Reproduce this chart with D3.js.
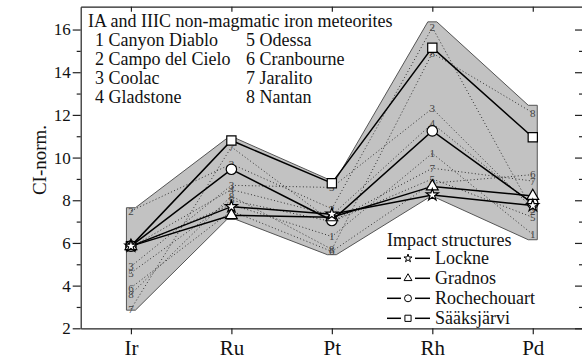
<!DOCTYPE html>
<html>
<head>
  <meta charset="utf-8">
  <title>CI-normalized PGE patterns</title>
  <script src="https://d3js.org/d3.v7.min.js"></script>
  <style>
  body { margin: 0; background: white; }
  svg text { font-family: "Liberation Serif", "Times New Roman", "DejaVu Serif", serif; fill: #111; }
  .axis path, .axis line { stroke: #222; stroke-width: 1.2px; }
  .dotted { fill: none; stroke: #333; stroke-width: 1px; stroke-dasharray: 1,2.4; }
  .solid { fill: none; stroke: #000; stroke-width: 1.5px; }
  .mlabel { font-size: 11px; fill: #444; }
  .legend { font-size: 18px; }
  </style>
</head>
<body>
<div id="container"></div>
<script>

// elements on the x axis
var elements = ['Ir', 'Ru', 'Pt', 'Rh', 'Pd']

// IA and IIIC non-magmatic iron meteorites (dotted, numbered)
var meteorites = ['Canyon Diablo', 'Campo del Cielo', 'Coolac', 'Gladstone',
                  'Odessa', 'Cranbourne', 'Jaralito', 'Nantan']
var canyonDiablo  = [5.8, 7.8, 6.3, 10.2, 6.4]
var campoDelCielo = [7.5, 9.7, 7.6, 16.1, 7.5]
var coolac        = [4.9, 8.7, 8.6, 12.3, 7.6]
var gladstone     = [5.8, 8.5, 7.3, 11.6, 7.8]
var odessa        = [4.6, 8.0, 7.0, 9.0, 7.2]
var cranbourne    = [3.9, 7.5, 5.6, 8.8, 9.2]
var jaralito      = [2.9, 10.5, 7.0, 9.5, 8.9]
var nantan        = [3.6, 8.2, 5.7, 14.9, 12.1]

// grey envelope of the meteorite field
var envelopeUpper = [7.65, 10.9, 9.0, 16.36, 12.45]
var envelopeLower = [2.85, 7.1, 5.45, 8.1, 6.15]

// impact structures (solid, with markers)
var impacts = ['Lockne', 'Gradnos', 'Rochechouart', 'Sääksjärvi']
var lockne       = [5.85, 7.7, 7.35, 8.25, 7.75]
var gradnos      = [5.85, 7.3, 7.2, 8.65, 8.2]
var rochechouart = [5.85, 9.45, 7.05, 11.25, 7.85]
var saaksjarvi   = [5.85, 10.8, 8.8, 15.15, 10.95]

var yMajor = [2, 4, 6, 8, 10, 12, 14, 16]
var yMinor = [3, 5, 7, 9, 11, 13, 15]

const width = 582
const height = 360
const plotLeft = 80.7, plotRight = 583, plotTop = 6.7, plotBottom = 328.3

var svg = d3.select('#container')
  .append('svg')
  .attr('width', width)
  .attr('height', height)

var x = d3.scaleLinear().domain([-0.5, 4.5]).range([plotLeft, plotRight])
var y = d3.scaleLinear().domain([2, 17.07]).range([plotBottom, plotTop])

// envelope polygon, small flats at each corner
const pad = 4.5
var envPts = []
envelopeUpper.forEach((v, i) => {
  envPts.push([x(i) - pad, y(v)], [x(i) + pad, y(v)])
})
envelopeLower.slice().reverse().forEach((v, j) => {
  var i = envelopeLower.length - 1 - j
  envPts.push([x(i) + pad, y(v)], [x(i) - pad, y(v)])
})
svg.append('polygon')
  .attr('points', envPts.map(p => p.join(',')).join(' '))
  .style('fill', '#c2c2c2')
  .style('stroke', '#555')
  .style('stroke-width', 1)

var line = d3.line()
  .x((d, i) => x(i))
  .y(d => y(d))

var metData = [canyonDiablo, campoDelCielo, coolac, gladstone, odessa, cranbourne, jaralito, nantan]

metData.forEach((series, k) => {
  svg.append('path')
    .datum(series)
    .attr('class', 'dotted')
    .attr('d', line)
})

metData.forEach((series, k) => {
  svg.selectAll('.ml' + k)
    .data(series)
    .enter()
    .append('text')
    .attr('class', 'mlabel ml' + k)
    .attr('x', (d, i) => x(i))
    .attr('y', d => y(d))
    .attr('dy', '0.35em')
    .attr('text-anchor', 'middle')
    .text(k + 1)
})

// impact structure lines, back to front
var impData = [lockne, gradnos, rochechouart, saaksjarvi]
var symbols = [d3.symbolStar, d3.symbolTriangle, d3.symbolCircle, d3.symbolSquare]
var sizes = [45, 60, 85, 85]

for (var k = impData.length - 1; k >= 0; k--) {
  svg.append('path')
    .datum(impData[k])
    .attr('class', 'solid')
    .attr('d', line)
}
for (var k = impData.length - 1; k >= 0; k--) {
  svg.selectAll('.mk' + k)
    .data(impData[k])
    .enter()
    .append('path')
    .attr('transform', (d, i) => 'translate(' + x(i) + ',' + y(d) + ')')
    .attr('d', d3.symbol().type(symbols[k]).size(sizes[k]))
    .style('fill', 'white')
    .style('stroke', '#000')
    .style('stroke-width', 1.2)
}

// axes
var xAxis = d3.axisBottom(x)
  .tickValues(d3.range(elements.length))
  .tickFormat(i => elements[i])
  .tickSize(6)
  .tickSizeOuter(0)

var gx = svg.append('g')
  .attr('class', 'axis')
  .attr('transform', 'translate(0,' + plotBottom + ')')
  .call(xAxis)
gx.selectAll('text')
  .attr('dy', null)
  .attr('y', 27)
  .style('font-size', '21px')
  .style('fill', '#111')

svg.append('g')
  .attr('class', 'axis')
  .attr('transform', 'translate(0,' + plotTop + ')')
  .call(d3.axisTop(x).tickValues(d3.range(elements.length)).tickSize(-5).tickSizeOuter(0).tickFormat(''))

var gy = svg.append('g')
  .attr('class', 'axis')
  .attr('transform', 'translate(' + plotLeft + ',0)')
  .call(d3.axisLeft(y).tickValues(yMajor).tickSize(8).tickPadding(2).tickSizeOuter(0))
gy.selectAll('text')
  .style('font-size', '17px')
  .style('fill', '#111')

svg.append('g')
  .attr('class', 'axis')
  .attr('transform', 'translate(' + plotLeft + ',0)')
  .call(d3.axisLeft(y).tickValues(yMinor).tickSize(4).tickFormat('').tickSizeOuter(0))
  .select('.domain').remove()

svg.append('g')
  .attr('class', 'axis')
  .attr('transform', 'translate(' + plotRight + ',0)')
  .call(d3.axisRight(y).tickValues(yMajor).tickSize(-8).tickFormat('').tickSizeOuter(0))
svg.append('g')
  .attr('class', 'axis')
  .attr('transform', 'translate(' + plotRight + ',0)')
  .call(d3.axisRight(y).tickValues(yMinor).tickSize(-4).tickFormat('').tickSizeOuter(0))
  .select('.domain').remove()

svg.append('text')
  .attr('transform', 'translate(46,160) rotate(-90)')
  .attr('text-anchor', 'middle')
  .style('font-size', '19px')
  .text('CI-norm.')

// meteorite legend
svg.append('text')
  .attr('class', 'legend')
  .attr('x', 88)
  .attr('y', 27)
  .text('IA and IIIC non-magmatic iron meteorites')

svg.selectAll('.metLegend')
  .data(meteorites)
  .enter()
  .append('text')
  .attr('class', 'legend metLegend')
  .attr('x', (d, i) => i < 4 ? 95 : 246)
  .attr('y', (d, i) => 45.5 + (i % 4) * 19.2)
  .text((d, i) => (i + 1) + ' ' + d)

// impact legend
svg.append('text')
  .attr('class', 'legend')
  .attr('x', 387)
  .attr('y', 246)
  .text('Impact structures')

impacts.forEach((name, k) => {
  var cy = 258.3 + k * 20
  var g = svg.append('g')
  g.append('line').attr('x1', 387).attr('x2', 401).attr('y1', cy).attr('y2', cy)
    .style('stroke', '#000').style('stroke-width', 1.5)
  g.append('line').attr('x1', 415).attr('x2', 430).attr('y1', cy).attr('y2', cy)
    .style('stroke', '#000').style('stroke-width', 1.5)
  g.append('path')
    .attr('transform', 'translate(408,' + cy + ')')
    .attr('d', d3.symbol().type(symbols[k]).size(sizes[k] * 0.45))
    .style('fill', 'white')
    .style('stroke', '#000')
    .style('stroke-width', 1)
  g.append('text')
    .attr('class', 'legend')
    .attr('x', 435)
    .attr('y', cy + 6)
    .text(name)
})

</script>
</body>
</html>
